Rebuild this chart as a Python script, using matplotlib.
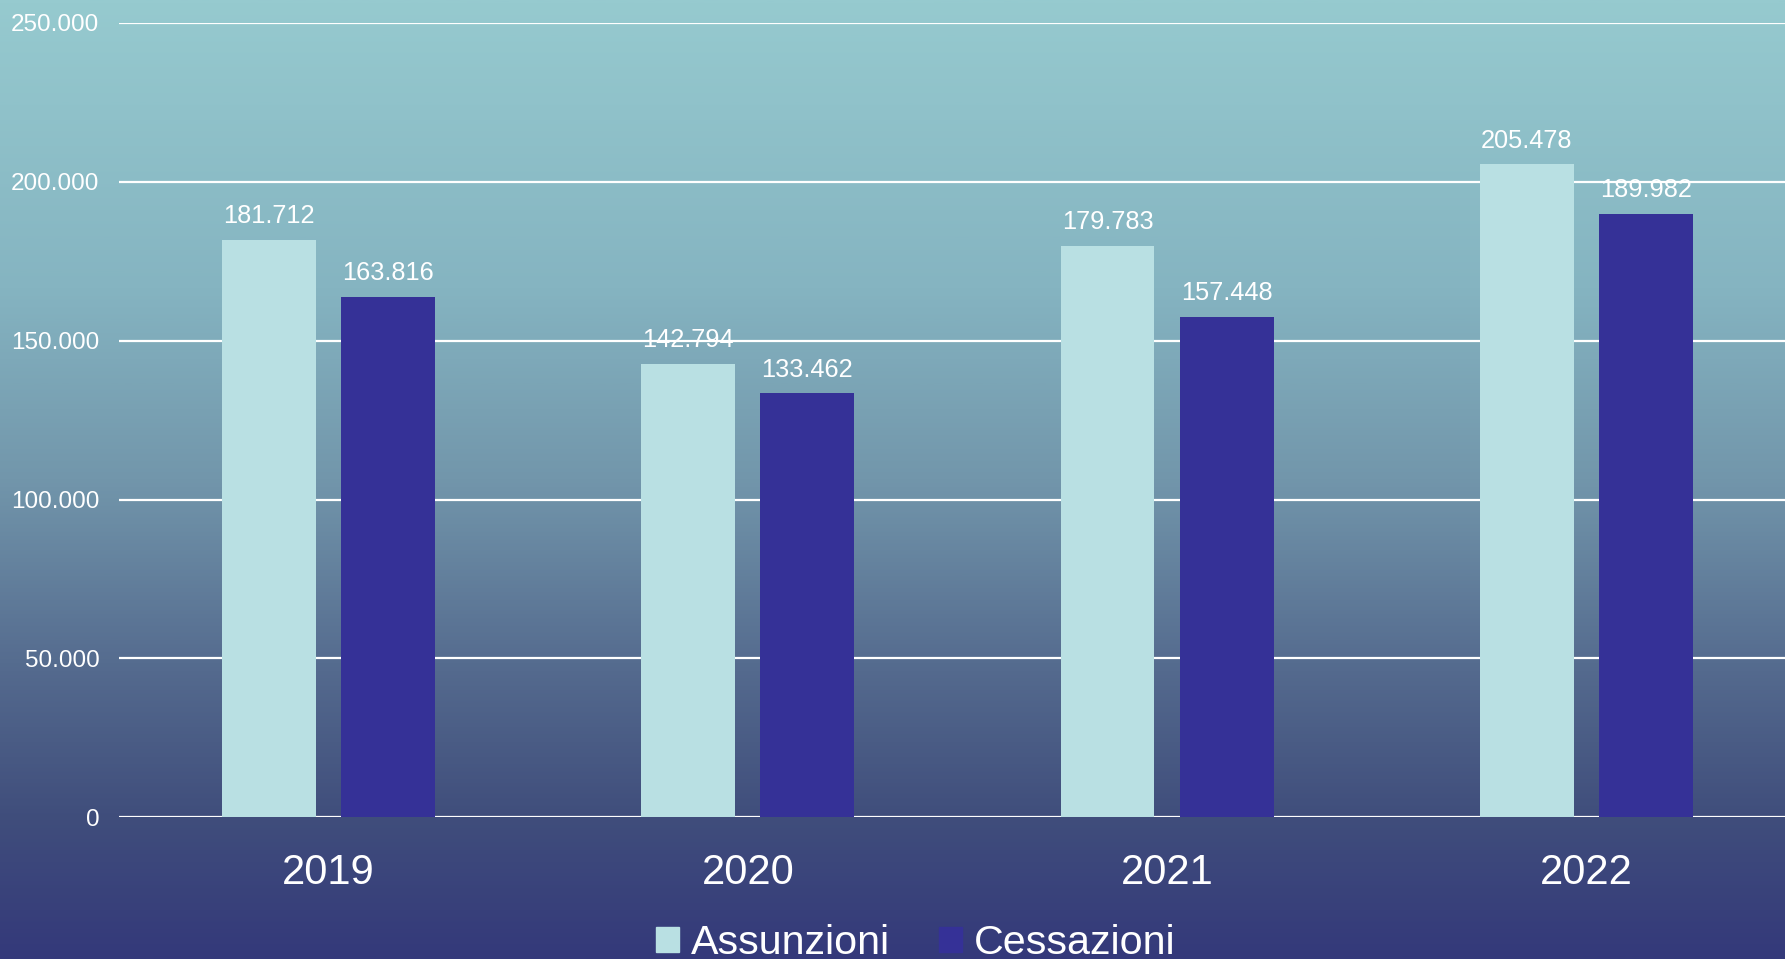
import matplotlib
matplotlib.use("Agg")
import matplotlib.pyplot as plt
import numpy as np
from matplotlib.colors import LinearSegmentedColormap
from matplotlib.patches import Patch
from matplotlib.ticker import FuncFormatter

plt.rcParams['font.family'] = ['Liberation Sans', 'DejaVu Sans']

# Dati
anni = ['2019', '2020', '2021', '2022']
assunzioni = [181712, 142794, 179783, 205478]
cessazioni = [163816, 133462, 157448, 189982]
y_ticks = [0, 50000, 100000, 150000, 200000, 250000]

col_ass = '#B9E0E3'
col_ces = '#353197'

fig = plt.figure(figsize=(17.85, 9.59), dpi=100)

# Sfondo sfumato
bg = fig.add_axes([0, 0, 1, 1], zorder=-1)
sfumatura = LinearSegmentedColormap.from_list('bg', [
    (0.0, (150/255, 202/255, 207/255)),
    (0.3, (133/255, 180/255, 193/255)),
    (0.5, (114/255, 150/255, 171/255)),
    (0.7, (84/255, 106/255, 142/255)),
    (0.85, (64/255, 78/255, 124/255)),
    (1.0, (52/255, 57/255, 122/255)),
])
grad = np.linspace(0, 1, 512).reshape(-1, 1)
bg.imshow(grad, cmap=sfumatura, aspect='auto', extent=[0, 1, 0, 1])
bg.set_axis_off()

# l'area del grafico va un po' oltre il bordo destro
ax = fig.add_axes([0.0666, 0.1477, 0.9395, 0.8285])
ax.set_facecolor('none')

x = np.arange(len(anni))
w = 0.224
off = 0.142
b1 = ax.bar(x - off, assunzioni, w, color=col_ass, zorder=3)
b2 = ax.bar(x + off, cessazioni, w, color=col_ces, zorder=3)

fmt = lambda v: f'{int(v):,}'.replace(',', '.')

for barre, valori in [(b1, assunzioni), (b2, cessazioni)]:
    for b, v in zip(barre, valori):
        ax.annotate(fmt(v), (b.get_x() + b.get_width() / 2, v),
                    xytext=(0, 12), textcoords='offset points',
                    ha='center', va='baseline', color='white', fontsize=18.3, zorder=4)

ax.set_xlim(-0.5, 3.5)
ax.set_ylim(0, 250000)
ax.set_yticks(y_ticks)
ax.yaxis.set_major_formatter(FuncFormatter(lambda v, p: fmt(v)))
ax.set_xticks(x)
ax.set_xticklabels(anni)
ax.tick_params(axis='y', length=0, pad=14, labelsize=17.5, labelcolor='white')
ax.tick_params(axis='x', length=0, pad=26, labelsize=30, labelcolor='white')
ax.yaxis.grid(True, color='white', linewidth=1.6, zorder=1)
ax.set_axisbelow(True)
for s in ax.spines.values():
    s.set_visible(False)

handles = [Patch(color=col_ass, label='Assunzioni'), Patch(color=col_ces, label='Cessazioni')]
fig.legend(handles=handles, loc='center', bbox_to_anchor=(0.513, 0.017), ncol=2,
           frameon=False, fontsize=29.7, labelcolor='white', handlelength=0.55,
           handleheight=0.55, handletextpad=0.28, columnspacing=1.2, borderpad=0)

fig.savefig('out.png', dpi=100)
